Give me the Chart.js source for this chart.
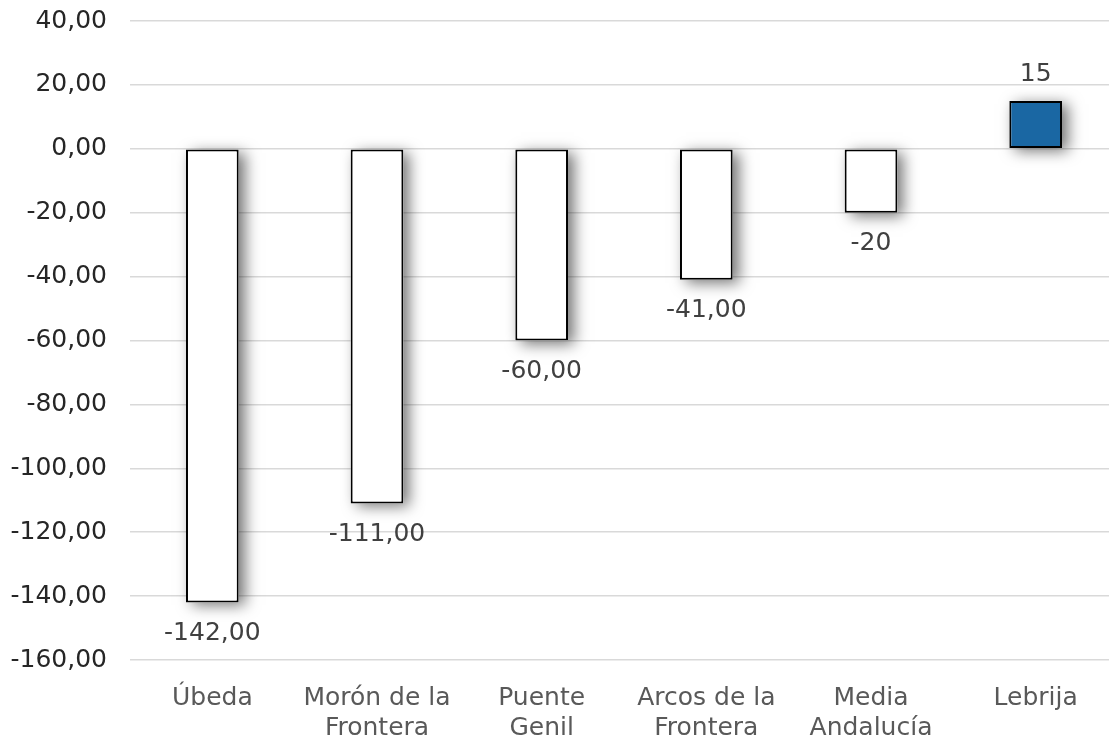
<!DOCTYPE html>
<html>
<head>
<meta charset="utf-8">
<script src="https://cdn.jsdelivr.net/npm/chart.js@4.4.1/dist/chart.umd.min.js"></script>
<style>
  html, body { margin: 0; padding: 0; background: #fff; overflow: hidden; }
  #wrap { width: 1118px; height: 757px; margin-top: -17px; }
</style>
</head>
<body>
<div id="wrap"><canvas id="myChart"></canvas></div>
<script>
var categories = [
    'Úbeda',
    ['Morón de la', 'Frontera'],
    ['Puente', 'Genil'],
    ['Arcos de la', 'Frontera'],
    ['Media', 'Andalucía'],
    'Lebrija'
];
var values = [-142, -111, -60, -41, -20, 15];
var valueLabels = ['-142,00', '-111,00', '-60,00', '-41,00', '-20', '15'];
var barColors = ['#ffffff', '#ffffff', '#ffffff', '#ffffff', '#ffffff', '#1a67a3'];

const fontFamily = '"DejaVu Sans", "Open Sans", sans-serif';

// soft drop shadow painted under each bar before the bars themselves
var barShadow = {
    id: 'barShadow',
    beforeDatasetsDraw: function (chart) {
        const ctx = chart.ctx;
        const meta = chart.getDatasetMeta(0);
        ctx.save();
        ctx.shadowColor = 'rgba(0, 0, 0, 0.55)';
        ctx.shadowBlur = 14;
        ctx.shadowOffsetX = 6;
        ctx.shadowOffsetY = 3;
        ctx.fillStyle = '#ffffff';
        meta.data.forEach(function (bar) {
            var p = bar.getProps(['x', 'y', 'base', 'width'], true);
            var top = Math.min(p.y, p.base);
            var h = Math.abs(p.base - p.y);
            ctx.fillRect(p.x - p.width / 2, top, p.width, h);
        });
        ctx.restore();
    }
};

// value text under negative bars, over positive ones
var valueText = {
    id: 'valueText',
    afterDraw: function (chart) {
        const ctx = chart.ctx;
        const meta = chart.getDatasetMeta(0);
        ctx.save();
        ctx.font = '25px ' + fontFamily;
        ctx.fillStyle = '#404040';
        ctx.textAlign = 'center';
        ctx.textBaseline = 'middle';
        meta.data.forEach(function (bar, i) {
            var y = values[i] < 0 ? bar.y + 31 : bar.y - 26;
            ctx.fillText(valueLabels[i], bar.x, y);
        });
        ctx.restore();
    }
};

var myChart = new Chart(document.getElementById('myChart'), {
    type: 'bar',
    data: {
        labels: categories,
        datasets: [{
            data: values,
            backgroundColor: barColors,
            borderColor: '#000000',
            borderWidth: 2,
            borderSkipped: false,
            barPercentage: 0.32,
            categoryPercentage: 1.0
        }]
    },
    options: {
        responsive: true,
        maintainAspectRatio: false,
        animation: false,
        layout: { padding: 0 },
        plugins: {
            legend: { display: false },
            tooltip: { enabled: false }
        },
        scales: {
            x: {
                grid: { display: false },
                border: { display: false },
                afterFit: function (scale) { scale.height = 80; },
                ticks: {
                    color: '#595959',
                    font: { family: fontFamily, size: 25, lineHeight: 1.2 },
                    maxRotation: 0,
                    autoSkip: false,
                    padding: 15
                }
            },
            y: {
                min: -160,
                max: 40,
                grid: { color: '#d9d9d9', lineWidth: 1.5, drawTicks: false },
                border: { display: false },
                afterFit: function (scale) { scale.width = 130; },
                ticks: {
                    stepSize: 20,
                    color: '#262626',
                    padding: 23,
                    font: { family: fontFamily, size: 25 },
                    callback: function (v) {
                        return v.toFixed(2).replace('.', ',');
                    }
                }
            }
        }
    },
    plugins: [barShadow, valueText]
});
</script>
</body>
</html>
